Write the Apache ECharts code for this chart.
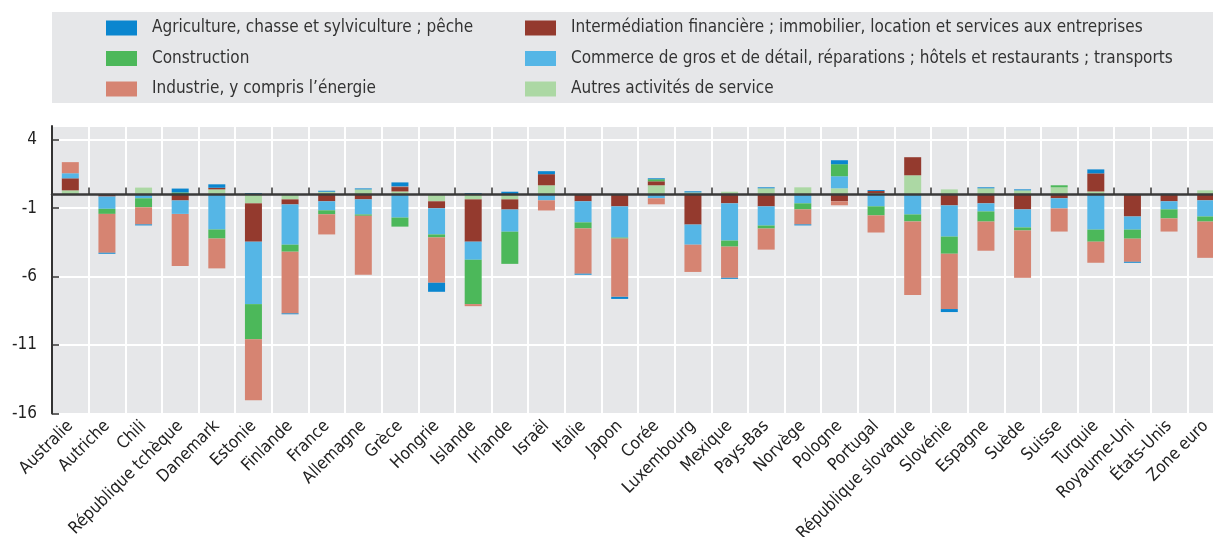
<!DOCTYPE html>
<html>
<head>
<meta charset="utf-8">
<script src="https://cdn.jsdelivr.net/npm/echarts@6/dist/echarts.min.js"></script>
<style>
    html, body { margin: 0; padding: 0; background: #fff; }
    #chart { width: 1213px; height: 537px; }
</style>
</head>
<body>
<div id="chart"></div>
<script>
// pays / zones
var categories = ['Australie', 'Autriche', 'Chili', 'République tchèque', 'Danemark', 'Estonie', 'Finlande', 'France',
    'Allemagne', 'Grèce', 'Hongrie', 'Islande', 'Irlande', 'Israël', 'Italie', 'Japon', 'Corée', 'Luxembourg',
    'Mexique', 'Pays-Bas', 'Norvège', 'Pologne', 'Portugal', 'République slovaque', 'Slovénie', 'Espagne',
    'Suède', 'Suisse', 'Turquie', 'Royaume-Uni', 'États-Unis', 'Zone euro'];

// contributions par secteur (points de %)
var autres = [0.3, 0, 0.5, 0, 0.37, -0.65, -0.36, 0.2, 0.37, 0.22, -0.5, -0.36, -0.36, 0.67, 0, 0, 0.67, 0.15,
    0.2, 0.45, 0.52, 0.45, 0.1, 1.4, 0.37, 0.45, 0.3, 0.52, 0.22, 0, 0, 0.3];
var intermediation = [0.88, -0.15, 0, -0.44, 0.12, -2.8, -0.37, -0.5, -0.36, 0.32, -0.51, -3.09, -0.74, 0.81, -0.5, -0.87, 0.29, -2.2,
    -0.65, -0.87, 0, -0.5, 0.15, 1.32, -0.8, -0.65, -1.09, -0.28, 1.32, -1.61, -0.5, -0.43];
var commerce = [0.37, -0.9, -0.28, -0.98, -2.56, -4.56, -2.94, -0.66, -1.1, -1.69, -1.91, -1.32, -1.62, -0.43, -1.54, -2.28, -0.28, -1.47,
    -2.72, -1.4, -0.65, 0.88, -0.87, -1.46, -2.28, -0.59, -1.32, -0.74, -2.57, -0.96, -0.59, -1.18];
var construction = [0, -0.37, -0.66, 0.15, -0.66, -2.57, -0.51, -0.29, -0.1, -0.66, -0.22, -3.24, -2.35, 0, -0.44, -0.07, 0.15, 0,
    -0.44, -0.22, -0.44, 0.88, -0.66, -0.51, -1.25, -0.74, -0.22, 0.15, -0.88, -0.66, -0.66, -0.37];
var industrie = [0.81, -2.84, -1.25, -3.8, -2.18, -4.46, -4.51, -1.47, -4.31, 0.05, -3.31, -0.15, 0, -0.74, -3.31, -4.26, -0.44, -1.99,
    -2.28, -1.54, -1.1, -0.29, -1.25, -5.37, -4.04, -2.13, -3.46, -1.69, -1.54, -1.69, -0.96, -2.65];
var agriculture = [0, -0.07, -0.07, 0.28, 0.25, 0.1, -0.06, 0.07, 0.07, 0.29, -0.66, 0.1, 0.2, 0.22, -0.07, -0.15, 0.07, 0.08,
    -0.07, 0.07, -0.07, 0.29, 0.07, 0, -0.22, 0.07, 0.07, 0, 0.29, -0.07, 0.05, 0];

var yTicks = { min: -16, max: 5, interval: 5 };

var names = {
    agri: 'Agriculture, chasse et sylviculture ; pêche',
    cons: 'Construction',
    indu: 'Industrie, y compris l\u2019énergie',
    inter: 'Intermédiation financière ; immobilier, location et services aux entreprises',
    comm: 'Commerce de gros et de détail, réparations ; hôtels et restaurants ; transports',
    autr: 'Autres activités de service'
};

var font = '"Liberation Sans Narrow", "Arial Narrow", "DejaVu Sans Condensed", sans-serif';

var myChart = echarts.init(document.getElementById('chart'), null, { renderer: 'canvas' });

// ordre d'empilement : du zéro vers l'extérieur
function bar(name, data, color) {
    return {
        name: name,
        type: 'bar',
        stack: 'total',
        barWidth: 17,
        xAxisIndex: 0,
        data: data,
        itemStyle: { color: color },
        emphasis: { disabled: true }
    };
}

var legendText = { color: '#333', fontSize: 17, fontFamily: font, padding: [0, 0, 0, 10] };

var option = {
    animation: false,
    graphic: [{
        type: 'rect',
        z: 0,
        shape: { x: 52, y: 12, width: 1161, height: 91 },
        style: { fill: '#e6e7e9' }
    }],
    legend: [{
        orient: 'vertical',
        left: 101, top: 14.5,
        itemWidth: 31, itemHeight: 15, itemGap: 13.5,
        icon: 'rect',
        textStyle: legendText,
        data: [names.agri, names.cons, names.indu]
    }, {
        orient: 'vertical',
        left: 520, top: 14.5,
        itemWidth: 31, itemHeight: 15, itemGap: 13.5,
        icon: 'rect',
        textStyle: legendText,
        data: [names.inter, names.comm, names.autr]
    }],
    grid: {
        left: 52, right: -11, top: 126, bottom: 123.5,
        outerBoundsMode: 'none',
        containLabel: false,
        show: true, backgroundColor: '#e6e7e9', borderWidth: 0
    },
    xAxis: [{
        type: 'category',
        position: 'bottom',
        data: categories,
        axisLine: { show: false, onZero: false },
        axisTick: { show: false },
        axisLabel: { interval: 0, rotate: 45, margin: 10, color: '#222', fontSize: 17, fontFamily: font },
        splitLine: { show: true, interval: 0, lineStyle: { color: '#fff', width: 2 } }
    }, {
        // ligne du zéro avec les petites graduations
        type: 'category',
        position: 'bottom',
        data: categories,
        z: 5,
        axisLine: { onZero: true, onZeroAxisIndex: 0, lineStyle: { color: '#3a3a3a', width: 2.5 } },
        axisTick: { show: true, inside: true, length: 7, interval: 0, lineStyle: { color: '#333', width: 1.5 } },
        axisLabel: { show: false },
        splitLine: { show: false }
    }],
    yAxis: {
        type: 'value',
        min: yTicks.min, max: yTicks.max, interval: yTicks.interval,
        axisLine: { show: true, lineStyle: { color: '#333', width: 2 } },
        axisTick: { show: true, inside: true, length: 7, lineStyle: { color: '#333', width: 1.5 } },
        axisLabel: { showMaxLabel: false, margin: 15, color: '#222', fontSize: 17, fontFamily: font },
        splitLine: { show: true, lineStyle: { color: '#fff', width: 2 } }
    },
    series: [
        bar(names.autr, autres, '#acd8a4'),
        bar(names.inter, intermediation, '#943a2e'),
        bar(names.comm, commerce, '#55b6e6'),
        bar(names.cons, construction, '#4cb85a'),
        bar(names.indu, industrie, '#d68472'),
        bar(names.agri, agriculture, '#0a86cf')
    ]
};
myChart.setOption(option);
</script>
</body>
</html>
